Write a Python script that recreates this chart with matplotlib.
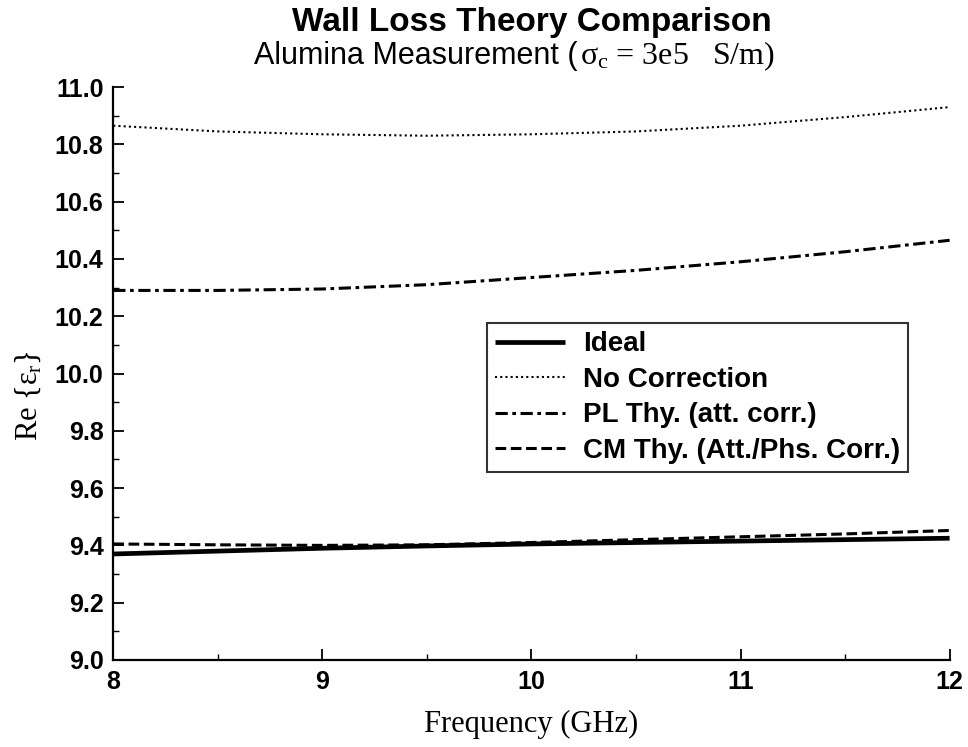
import matplotlib
matplotlib.use("Agg")
import matplotlib.pyplot as plt
from matplotlib.ticker import MultipleLocator, FormatStrFormatter

# ---------------- datos ----------------
freq = [8.0, 8.5, 9.0, 9.5, 10.0, 10.5, 11.0, 11.5, 12.0]
ideal = [9.370, 9.380, 9.390, 9.398, 9.405, 9.410, 9.415, 9.420, 9.425]
no_corr = [10.865, 10.845, 10.835, 10.830, 10.835, 10.845, 10.865, 10.895, 10.930]
pl_thy = [10.290, 10.290, 10.295, 10.310, 10.335, 10.360, 10.390, 10.425, 10.465]
cm_thy = [9.405, 9.402, 9.400, 9.402, 9.410, 9.420, 9.430, 9.440, 9.452]

labels = ["Ideal", "No Correction", "PL Thy. (att. corr.)", "CM Thy. (Att./Phs. Corr.)"]

sans = "Liberation Sans"
serif = "Liberation Serif"

plt.rcParams["mathtext.fontset"] = "custom"
plt.rcParams["mathtext.rm"] = serif
plt.rcParams["mathtext.it"] = serif

fig = plt.figure(figsize=(9.68, 7.47), dpi=100)
ax = fig.add_axes([0.117, 0.1165, 0.864, 0.767])

ax.plot(freq, ideal, color="black", lw=3.4, solid_capstyle="butt", label=labels[0])
ax.plot(freq, no_corr, color="black", lw=1.5, linestyle=(0, (1, 1.5)), label=labels[1])
ax.plot(freq, pl_thy, color="black", lw=2.2, linestyle=(0, (4, 1.5, 1.2, 1.5)), label=labels[2])
ax.plot(freq, cm_thy, color="black", lw=2.2, linestyle=(0, (3.5, 1.5)), label=labels[3])

ax.set_xlim(8, 12)
ax.set_ylim(9.0, 11.0)
ax.xaxis.set_major_locator(MultipleLocator(1))
ax.xaxis.set_minor_locator(MultipleLocator(0.5))
ax.yaxis.set_major_locator(MultipleLocator(0.2))
ax.yaxis.set_minor_locator(MultipleLocator(0.1))
ax.yaxis.set_major_formatter(FormatStrFormatter("%.1f"))

for s in ["top", "right"]:
    ax.spines[s].set_visible(False)
for s in ["left", "bottom"]:
    ax.spines[s].set_linewidth(1.6)

ax.tick_params(which="major", direction="in", length=8, width=1.3, pad=7)
ax.tick_params(which="minor", direction="in", length=4, width=1.0)
for lab in ax.get_xticklabels() + ax.get_yticklabels():
    lab.set_fontfamily(sans)
    lab.set_fontweight("bold")
    lab.set_fontsize(18)

ax.set_xlabel("Frequency (GHz)", fontfamily=serif, fontsize=22, labelpad=12)
ax.set_ylabel(r"Re {$\varepsilon_\mathrm{r}$}", fontfamily=serif, fontsize=22)
ax.yaxis.set_label_coords(-0.083, 0.462)

# titulos
fig.text(0.549, 0.9705, "Wall Loss Theory Comparison", ha="center", va="center",
         fontfamily=sans, fontweight="bold", fontsize=24)
fig.text(0.597, 0.925, "Alumina Measurement (", ha="right", va="center",
         fontfamily=sans, fontsize=22)
fig.text(0.599, 0.925, r"$\sigma_\mathrm{c}$ = 3e5   S/m)", ha="left", va="center",
         fontfamily=serif, fontsize=23)

leg = ax.legend(loc="upper left", bbox_to_anchor=(0.447, 0.588), frameon=True,
                fancybox=False, edgecolor="black", handlelength=2.5,
                handletextpad=0.65, labelspacing=0.34, borderpad=0.3,
                borderaxespad=0.0,
                prop={"family": sans, "size": 20, "weight": "bold"})
leg.get_frame().set_linewidth(1.5)

fig.savefig("out.png", dpi=100)
